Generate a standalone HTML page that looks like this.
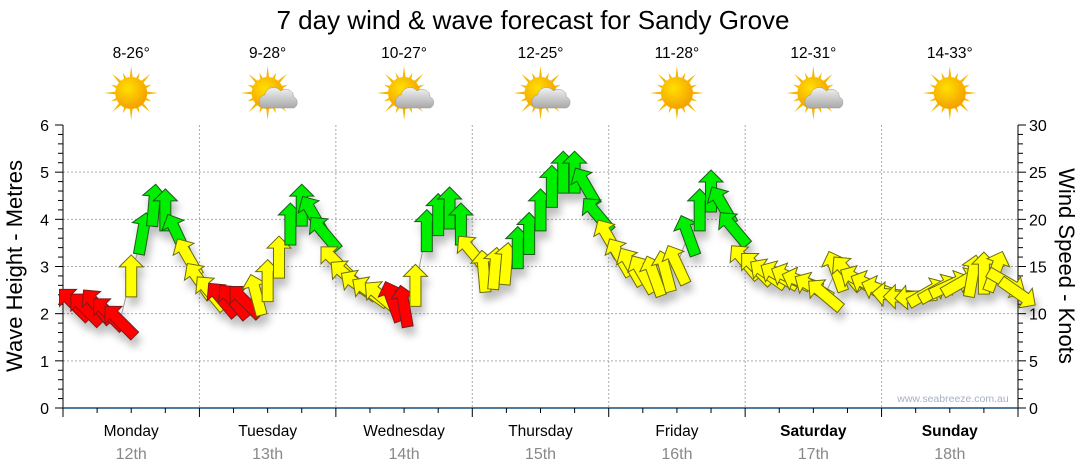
<!DOCTYPE html>
<html><head><meta charset="utf-8">
<style>
html,body{margin:0;padding:0;background:#fff;}
svg{display:block;font-family:"Liberation Sans",Arial,sans-serif;}
</style></head>
<body>
<svg id="chart" width="1080" height="475" viewBox="0 0 1080 475">
<defs>
<filter id="shadow" x="-50%" y="-50%" width="200%" height="200%">
<feGaussianBlur in="SourceAlpha" stdDeviation="4"/>
<feOffset dx="3" dy="8" result="b"/>
<feComponentTransfer><feFuncA type="linear" slope="0.25"/></feComponentTransfer>
<feMerge><feMergeNode/><feMergeNode in="SourceGraphic"/></feMerge>
</filter>
<radialGradient id="sunGrad" cx="40%" cy="35%" r="65%">
<stop offset="0" stop-color="#ffe000"/><stop offset="1" stop-color="#f5a000"/>
</radialGradient>
<linearGradient id="cloudGrad" x1="0" y1="0" x2="0" y2="1">
<stop offset="0" stop-color="#f2f2f2"/><stop offset="1" stop-color="#a8a8a8"/>
</linearGradient>
</defs>
<text x="533" y="29" font-size="26" text-anchor="middle" fill="#000">7 day wind &amp; wave forecast for Sandy Grove</text>
<g id="axes"></g>
<g id="marks" filter="url(#shadow)"></g>
<text x="953" y="402" font-size="10.5" text-anchor="middle" fill="#a8b0c0">www.seabreeze.com.au</text>
<text transform="translate(22,266) rotate(-90)" font-size="22" text-anchor="middle" fill="#000">Wave Height - Metres</text>
<text transform="translate(1059,266) rotate(90)" font-size="22" text-anchor="middle" fill="#000">Wind Speed - Knots</text>
</svg>
<script>
const dayNames = ["Monday","Tuesday","Wednesday","Thursday","Friday","Saturday","Sunday"];
const dayDates = ["12th","13th","14th","15th","16th","17th","18th"];
const tempRanges = ["8-26°","9-28°","10-27°","12-25°","11-28°","12-31°","14-33°"];
const weatherIcons = ["sun","cloud","cloud","cloud","sun","cloud","sun"];
const leftTicks = [0,1,2,3,4,5,6];
const rightTicks = [0,5,10,15,20,25,30];
const hours = [2,4,6,8,10,12,14,16,18,20,22,24,26,28,30,32,34,36,38,40,42,44,46,48,50,52,54,56,58,60,62,64,66,68,70,72,74,76,78,80,82,84,86,88,90,92,94,96,98,100,102,104,106,108,110,112,114,116,118,120,122,124,126,128,130,132,134,136,138,140,142,144,146,148,150,152,154,156,158,160,162,164,166,168];
const windSpeed = [11,10.5,10.8,10,9.2,14,18.5,21.5,21,18.5,16,13.5,12.2,11.5,11.3,11.3,12,13.5,16,19.5,21.5,20.5,18.5,15.5,14,13,12.3,11.8,11.3,10.8,13,18.8,20.5,21.2,19.5,16.5,14.5,14.8,15.3,17,18.5,21,23.5,25,25,23.5,20.5,18,16,15,14.2,14,14.5,15.2,18.3,21,23,21.5,19,15.5,14.8,14.2,14,13.8,13.4,12.8,12,14.5,14.3,13.5,13,12.5,12,11.8,11.8,12.2,12.6,13,13.3,14,14.3,14.5,13.3,12.2];
const windDir = [315,315,320,315,315,0,10,5,0,335,330,325,320,320,320,315,345,0,0,0,0,330,320,315,310,305,305,310,340,350,0,0,0,0,0,320,355,5,5,0,0,0,0,0,0,330,320,330,330,330,330,340,345,335,340,0,0,330,320,320,315,305,300,295,290,300,310,340,320,300,295,290,275,270,265,60,60,65,60,10,0,20,120,125];
const windClass = ["r","r","r","r","r","y","g","g","g","g","y","y","y","r","r","r","y","y","y","g","g","g","g","y","y","y","y","y","r","r","y","g","g","g","g","y","y","y","y","g","g","g","g","g","g","g","g","y","y","y","y","y","y","y","g","g","g","g","g","y","y","y","y","y","y","y","y","y","y","y","y","y","y","y","y","y","y","y","y","y","y","y","y","y"];

const NS="http://www.w3.org/2000/svg";
const X0=63,X1=1018,Y0=408,Y1=125;
const dayW=(X1-X0)/7;
function xScale(h){return X0+h/168*(X1-X0);}
function yLeft(m){return Y0-m/6*(Y0-Y1);}
function yRight(k){return Y0-k/30*(Y0-Y1);}
function mk(tag,attrs,parent){const e=document.createElementNS(NS,tag);for(const k in attrs)e.setAttribute(k,attrs[k]);parent.appendChild(e);return e;}
const axes=document.getElementById('axes');
const marks=document.getElementById('marks');

for(let i=1;i<7;i++){
  const x=X0+i*dayW;
  const g=mk('line',{x1:x,x2:x,y1:Y1,y2:Y0,stroke:'#aaa','stroke-dasharray':'2,2'},axes);
  
  
}
leftTicks.forEach(v=>{
  if(v>0&&v<6){
    const g=mk('line',{x1:X0,x2:X1,y1:yLeft(v),y2:yLeft(v),stroke:'#aaa','stroke-dasharray':'2,2'},axes);
    
    
  }
  const t=mk('text',{x:49,y:yLeft(v)+6,'font-size':16,'text-anchor':'end',fill:'#000'},axes);
  t.textContent=v;
  
  
});
rightTicks.forEach(v=>{
  const t=mk('text',{x:1029,y:yRight(v)+6,'font-size':16,'text-anchor':'start',fill:'#000'},axes);
  t.textContent=v;
  
  
});
const la=mk('line',{x1:X0,x2:X0,y1:Y1,y2:Y0,stroke:'#000'},axes);


const ra=mk('line',{x1:X1,x2:X1,y1:Y1,y2:Y0,stroke:'#000'},axes);


for(let k=0;k<=30;k++){
  const y=yRight(k),maj=k%5===0;
  mk('line',{x1:X0-(maj?8:5),x2:X0,y1:y,y2:y,stroke:'#000'},axes);
  mk('line',{x1:X1,x2:X1+(maj?8:5),y1:y,y2:y,stroke:'#000'},axes);
}
const ba=mk('line',{x1:X0,x2:X1,y1:Y0,y2:Y0,stroke:'#1a4f7a','stroke-width':1.5},axes);


for(let q=0;q<=28;q++){
  const x=X0+q*dayW/4;
  mk('line',{x1:x,x2:x,y1:Y0,y2:Y0+(q%4===0?9:5),stroke:'#000'},axes);
}
dayNames.forEach((d,i)=>{
  const cx=X0+(i+0.5)*dayW;
  const t=mk('text',{x:cx,y:436,'font-size':15.5,'text-anchor':'middle',fill:'#000','font-weight':i>=5?'bold':'normal'},axes);
  t.textContent=d;
  
  
  const t2=mk('text',{x:cx,y:459,'font-size':16,'text-anchor':'middle',fill:'#888'},axes);
  t2.textContent=dayDates[i];
  
  
  const t3=mk('text',{x:cx,y:58,'font-size':15.5,'text-anchor':'middle',fill:'#000'},axes);
  t3.textContent=tempRanges[i];
  
  
  const ic=mk('g',{transform:`translate(${cx},${93})`},axes);
  
  
  for(let r=0;r<16;r++){
    const a=r*Math.PI/8,l=r%2?22:27;
    const p1=[Math.cos(a-0.12)*14,Math.sin(a-0.12)*14],p2=[Math.cos(a+0.12)*14,Math.sin(a+0.12)*14],p3=[Math.cos(a)*l,Math.sin(a)*l];
    mk('polygon',{points:`${p1} ${p3} ${p2}`,fill:'#f5b800'},ic);
  }
  mk('circle',{r:16,fill:'url(#sunGrad)'},ic);
  if(weatherIcons[i]==='cloud'){
    mk('path',{d:'M-5,15 a7,7 0 0 1 2,-13 a9,9 0 0 1 16,-4 a8,8 0 0 1 13,6 a6,6 0 0 1 0,11 z',fill:'url(#cloudGrad)',stroke:'#999','stroke-width':0.5},ic);
  }
});
let pts=hours.map((h,i)=>`${xScale(h)},${yRight(windSpeed[i])}`).join(' ');
const ln=mk('polyline',{points:pts,fill:'none',stroke:'#999','stroke-width':1},marks);


const colors={r:'#ff0000',y:'#ffff00',g:'#00ee00'};
const strokes={r:'#7a1a1a',y:'#6b6b10',g:'#1a5a1a'};
hours.forEach((h,i)=>{
  const x=xScale(h),y=yRight(windSpeed[i]);
  const a=mk('polygon',{points:'0,-21 12,-9 5.5,-9 5.5,21 -5.5,21 -5.5,-9 -12,-9',fill:colors[windClass[i]],stroke:strokes[windClass[i]],'stroke-width':1,transform:`translate(${x},${y}) rotate(${windDir[i]})`},marks);
  
  
});
</script>
</body></html>
